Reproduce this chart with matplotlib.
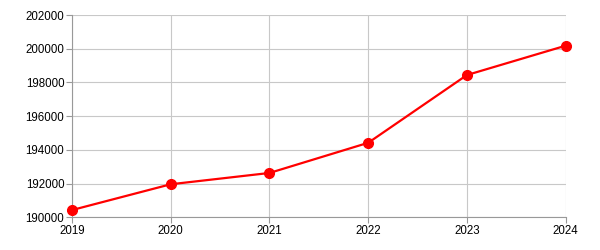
import matplotlib
matplotlib.use("Agg")
import matplotlib.pyplot as plt

years = [2019, 2020, 2021, 2022, 2023, 2024]
values = [190430, 191960, 192630, 194420, 198440, 200180]
y_ticks = [190000, 192000, 194000, 196000, 198000, 200000, 202000]

plt.rcParams['font.family'] = ['Liberation Sans', 'DejaVu Sans']

fig = plt.figure(figsize=(6, 2.5), dpi=100)
ax = fig.add_axes([72 / 600, 1 - 217.3 / 250, (565.7 - 72) / 600, (217.3 - 15) / 250])

ax.plot(years, values, color='#ff0000', linewidth=1.6, marker='o', markersize=7,
        clip_on=False, zorder=3)

ax.set_xlim(years[0], years[-1])
ax.set_ylim(y_ticks[0], y_ticks[-1])
ax.set_xticks(years)
ax.set_yticks(y_ticks)
ax.set_yticklabels([str(t) for t in y_ticks])

ax.grid(True, color='#c8c8c8', linewidth=0.8)
ax.set_axisbelow(True)
for side in ['top', 'right']:
    ax.spines[side].set_visible(False)
for side in ['left', 'bottom']:
    ax.spines[side].set_color('#999999')
    ax.spines[side].set_linewidth(0.8)
ax.tick_params(axis='both', length=4, width=0.8, color='#999999',
               labelsize=8.3, labelcolor='black', pad=1.5)

fig.savefig("out.png", dpi=100)
